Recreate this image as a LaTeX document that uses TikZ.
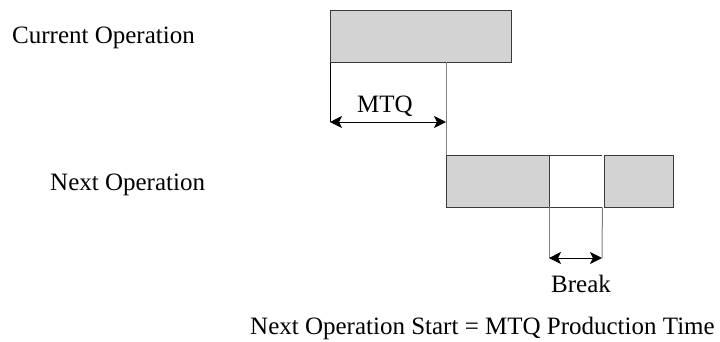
\documentclass[tikz,border=0pt]{standalone}
\usepackage{fontspec}
\setmainfont{Liberation Serif}
\usetikzlibrary{arrows.meta}
\definecolor{boxgray}{HTML}{D3D3D3}
\definecolor{edge}{HTML}{3A3A3A}
\definecolor{guide}{HTML}{808080}
\tikzset{
  opbox/.style={draw=edge, fill=boxgray, line width=1pt, inner sep=0pt, anchor=north west},
  gapbox/.style={inner sep=0pt, anchor=north west},
  lbl/.style={font=\fontsize{25}{29}\selectfont, inner sep=0pt},
  guideline/.style={draw=guide, line width=1pt},
  dimline/.style={draw=black, line width=1pt, {Stealth[length=12pt,width=12pt,inset=3pt]}-{Stealth[length=12pt,width=12pt,inset=3pt]}}
}
\begin{document}
\begin{tikzpicture}[x=1pt,y=-1pt]
\useasboundingbox (0,0) rectangle (720,341);
% boxes
\node[opbox, minimum width=181pt, minimum height=52pt] (cur) at (330,10) {};
\node[opbox, minimum width=103pt, minimum height=52pt] (nx1) at (446,155) {};
\node[gapbox, minimum width=53pt, minimum height=52pt] (gap) at (549,155) {};
\node[opbox, minimum width=69pt, minimum height=52pt] (nx2) at (604,155) {};
\draw[draw=edge, line width=1pt] (gap.north west) -- (gap.north east);
\draw[draw=edge, line width=1pt] (gap.south west) -- (gap.south east);
% MTQ dimension
\coordinate (ml) at (330,122);
\coordinate (mr) at (446,122);
\coordinate (gtop) at (446,62);
\draw[draw=black, line width=1pt] (cur.south west) -- (ml);
\draw[guideline] (gtop) -- (nx1.north west);
\draw[dimline] (ml) -- (mr);
% Break dimension
\coordinate (bl) at (549,258);
\coordinate (br) at (602,258);
\draw[guideline] (gap.south west) -- (bl);
\draw[guideline] (gap.south east) -- (br);
\draw[dimline] (bl) -- (br);
% labels
\node[lbl, anchor=base west] (lcur) at (12,43) {Current Operation};
\node[lbl, anchor=base west] (lnext) at (50,190) {Next Operation};
\node[lbl, anchor=base] (lmtq) at (385,112) {MTQ};
\node[lbl, anchor=base] (lbrk) at (581,292) {Break};
\node[lbl, anchor=base west] (lform) at (250,334) {Next Operation Start = MTQ Production Time};
\end{tikzpicture}
\end{document}
